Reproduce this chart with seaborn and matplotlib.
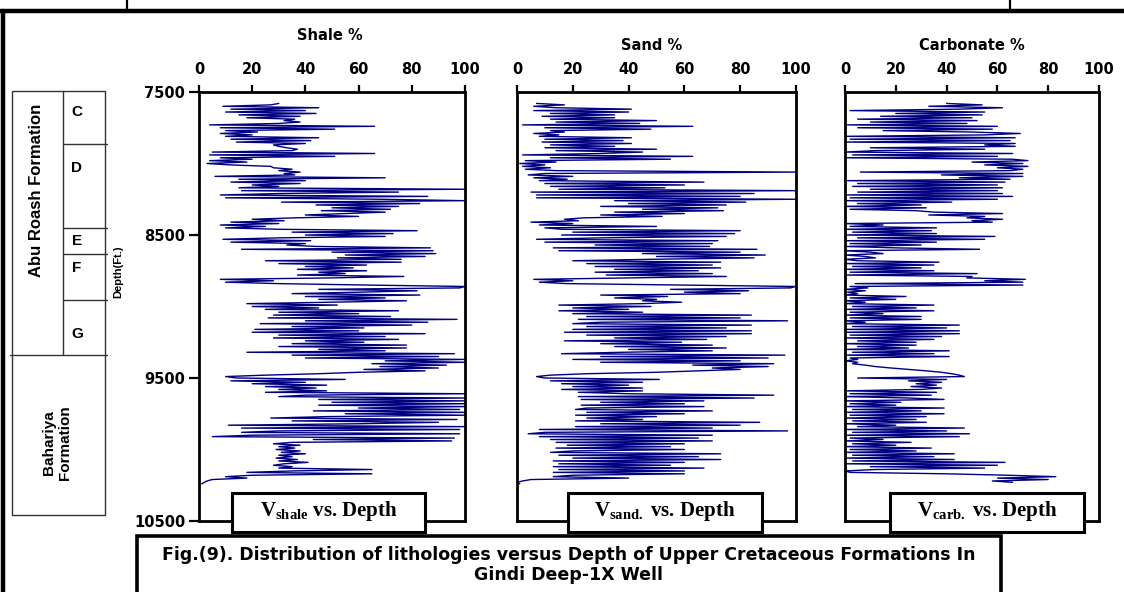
import numpy as np
import pandas as pd
import matplotlib
matplotlib.use("Agg")
import matplotlib.pyplot as plt
from matplotlib.patches import Rectangle
from matplotlib.lines import Line2D
import seaborn as sns

# ---------------- data ----------------
DEPTH_TOP = 7580   # first logged depth, ft
DEPTH_STEP = 10    # sampling interval, ft

SHALE = [
    30, 27, 9, 45, 12, 40, 10, 44, 15, 38,
    18, 36, 32, 38, 30, 4, 66, 8, 51, 10,
    22, 8, 20, 10, 45, 12, 42, 14, 40, 28,
    30, 33, 37, 35, 5, 66, 4, 51, 8, 20,
    4, 18, 3, 12, 27, 28, 35, 30, 38, 32,
    36, 6, 70, 15, 40, 12, 38, 20, 30, 15,
    100, 16, 75, 30, 8, 86, 10, 68, 100, 31,
    83, 44, 75, 50, 72, 46, 70, 55, 40, 60,
    36, 20, 32, 12, 30, 8, 25, 10, 30, 82,
    35, 73, 40, 70, 30, 9, 42, 12, 40, 33,
    44, 87, 16, 88, 50, 89, 55, 85, 52, 76,
    25, 76, 30, 63, 40, 58, 37, 63, 45, 55,
    37, 77, 50, 8, 28, 10, 30, 63, 100, 98,
    45, 82, 60, 35, 83, 40, 70, 45, 78, 50,
    18, 52, 20, 45, 25, 75, 30, 60, 28, 72,
    26, 97, 40, 86, 23, 80, 35, 62, 21, 60,
    20, 85, 30, 70, 28, 75, 40, 62, 35, 78,
    30, 78, 45, 70, 18, 96, 35, 90, 40, 100,
    70, 100, 65, 93, 68, 90, 62, 85, 60, 45,
    25, 10, 14, 55, 12, 40, 20, 48, 25, 44,
    30, 48, 25, 100, 40, 30, 100, 45, 100, 50,
    100, 45, 100, 60, 98, 43, 100, 55, 100, 48,
    27, 97, 35, 90, 60, 11, 100, 16, 98, 30,
    16, 98, 20, 5, 96, 43, 95, 35, 28, 38,
    30, 36, 29, 38, 31, 40, 30, 35, 29, 37,
    30, 41, 32, 28, 35, 30, 65, 35, 18, 65,
    20, 10, 18, 5, 3, 2, 1,
]

SAND = [
    7, 17, 6, 14, 41, 6, 40, 12, 35, 9,
    35, 12, 50, 14, 44, 2, 63, 10, 48, 12,
    17, 6, 15, 8, 41, 10, 38, 9, 41, 12,
    35, 10, 50, 14, 45, 30, 2, 63, 12, 55,
    3, 14, 1, 10, 2, 12, 3, 14, 100, 10,
    4, 20, 6, 18, 8, 67, 10, 60, 12, 53,
    15, 100, 5, 85, 7, 80, 7, 100, 35, 82,
    40, 75, 30, 72, 45, 74, 35, 60, 30, 52,
    24, 17, 22, 5, 20, 8, 50, 10, 16, 80,
    20, 78, 16, 75, 30, 7, 72, 10, 70, 28,
    69, 13, 86, 15, 80, 45, 89, 50, 85, 48,
    20, 73, 25, 70, 28, 73, 35, 65, 28, 70,
    32, 75, 40, 6, 20, 8, 18, 60, 100, 98,
    55, 83, 60, 80, 30, 54, 35, 50, 45, 59,
    45, 15, 48, 20, 40, 15, 45, 20, 84, 25,
    80, 22, 97, 30, 20, 84, 25, 75, 20, 84,
    17, 84, 25, 75, 35, 68, 17, 59, 30, 70,
    35, 75, 40, 70, 38, 16, 96, 30, 90, 20,
    80, 30, 92, 63, 90, 70, 80, 65, 50, 25,
    12, 7, 10, 51, 12, 45, 16, 40, 20, 45,
    16, 45, 22, 40, 92, 22, 85, 23, 67, 30,
    60, 23, 67, 25, 21, 70, 25, 60, 21, 50,
    25, 45, 21, 87, 30, 80, 21, 70, 8, 97,
    10, 4, 70, 8, 65, 12, 70, 14, 60, 18,
    55, 14, 60, 20, 12, 73, 15, 65, 20, 73,
    13, 60, 15, 55, 13, 67, 15, 60, 13, 60,
    20, 13, 40, 5, 2, 0, 1,
]

CARB = [
    40, 54, 33, 62, 45, 2, 55, 20, 54, 14,
    50, 5, 52, 10, 48, 1, 60, 5, 58, 15,
    50, 69, 55, 0, 67, 2, 65, 0, 67, 55,
    67, 10, 55, 12, 0, 66, 3, 60, 0, 66,
    72, 50, 70, 55, 72, 60, 70, 65, 6, 70,
    38, 70, 45, 65, 1, 63, 5, 60, 3, 62,
    10, 60, 5, 62, 0, 66, 2, 60, 0, 42,
    5, 30, 0, 32, 2, 28, 35, 62, 33, 55,
    48, 62, 50, 58, 0, 15, 2, 36, 0, 34,
    3, 36, 0, 59, 5, 55, 0, 36, 2, 30,
    0, 20, 53, 0, 10, 15, 0, 8, 12, 0,
    5, 37, 0, 35, 3, 30, 0, 35, 2, 52,
    0, 50, 48, 71, 55, 70, 4, 70, 2, 9,
    0, 8, 1, 5, 0, 24, 2, 20, 0, 8,
    0, 35, 3, 28, 0, 35, 2, 15, 0, 30,
    2, 30, 0, 8, 0, 45, 3, 40, 0, 45,
    0, 45, 2, 38, 0, 35, 5, 28, 0, 28,
    5, 25, 0, 41, 3, 35, 0, 41, 2, 5,
    0, 5, 3, 8, 12, 18, 25, 32, 38, 42,
    45, 47, 5, 40, 25, 38, 28, 36, 26, 38,
    30, 0, 36, 2, 34, 0, 25, 39, 0, 22,
    2, 20, 0, 39, 3, 30, 0, 39, 2, 32,
    0, 28, 3, 32, 0, 20, 5, 47, 0, 40,
    3, 49, 0, 45, 2, 15, 0, 26, 3, 20,
    0, 34, 2, 28, 0, 43, 3, 35, 0, 43,
    3, 63, 0, 60, 10, 55, 12, 0, 2, 40,
    64, 83, 60, 80, 58, 66,
]

PANEL_TITLES = ["Shale %", "Sand %", "Carbonate %"]
PANEL_BOX_SUB = ["shale", "sand.", "carb."]
X_TICKS = [0, 20, 40, 60, 80, 100]
DEPTH_TICKS = [7500, 8500, 9500, 10500]
UNITS = ["C", "D", "E", "F", "G"]
CAPTION = ("Fig.(9). Distribution of lithologies versus Depth of Upper Cretaceous Formations In\n"
           "Gindi Deep-1X Well")

# ---------------- style ----------------
sns.set_theme(style="white")
plt.rcParams["font.family"] = ["Liberation Sans", "DejaVu Sans"]
plt.rcParams["font.weight"] = "bold"
for key in ["text.color", "axes.labelcolor", "xtick.color", "ytick.color", "axes.edgecolor"]:
    plt.rcParams[key] = "black"
plt.rcParams["mathtext.fontset"] = "custom"
plt.rcParams["mathtext.rm"] = "Liberation Serif:bold"
plt.rcParams["mathtext.bf"] = "Liberation Serif:bold"
plt.rcParams["mathtext.it"] = "Liberation Serif:bold"

WIDE = ["DejaVu Sans"]   # wide bold sans, close to the stretched lettering

W, H = 1124, 592
fig = plt.figure(figsize=(W / 100, H / 100), dpi=100)
fig.patch.set_facecolor("white")


def fx(x):
    return x / W


def fy(y):
    return 1 - y / H


LINE_COLOR = "#000080"
AX_TOP, AX_BOT = 92, 521
panels = [(199, 465), (517, 796), (845, 1099)]
title_pos = [(330, 36), (652, 46), (972, 46)]
box_pos = [(232, 425), (568, 762), (890, 1084)]

series = [SHALE, SAND, CARB]
for i, ((x0, x1), vals) in enumerate(zip(panels, series)):
    ax = fig.add_axes([fx(x0), fy(AX_BOT), (x1 - x0) / W, (AX_BOT - AX_TOP) / H])
    df = pd.DataFrame({
        "value": vals,
        "depth": DEPTH_TOP + DEPTH_STEP * np.arange(len(vals)),
    })
    sns.lineplot(data=df, x="value", y="depth", orient="y", estimator=None,
                 sort=False, color=LINE_COLOR, lw=1.0, ax=ax)
    ax.set_xlim(0, 100)
    ax.set_ylim(10500, 7500)
    ax.set_xlabel("")
    ax.set_ylabel("")
    ax.set_facecolor("white")
    for s in ax.spines.values():
        s.set_visible(True)
        s.set_color("black")
        s.set_linewidth(2.0)
    ax.set_xticks(X_TICKS)
    ax.xaxis.set_ticks_position("top")
    ax.tick_params(axis="x", top=True, bottom=False, labeltop=True, labelbottom=False,
                   direction="out", length=5, width=1.6, pad=6, colors="black")
    for lbl in ax.get_xticklabels():
        lbl.set_fontweight("bold")
        lbl.set_family(WIDE)
        lbl.set_fontsize(10.5)
    if i == 0:
        ax.set_yticks(DEPTH_TICKS)
        ax.set_yticklabels([str(d) for d in DEPTH_TICKS])
        ax.tick_params(axis="y", left=True, right=False, direction="out", length=7,
                       width=1.6, pad=3, colors="black")
        for lbl in ax.get_yticklabels():
            lbl.set_fontweight("bold")
            lbl.set_family(WIDE)
            lbl.set_fontsize(10.5)
    else:
        ax.set_yticks([])
    ax.grid(False)

    tx, ty = title_pos[i]
    fig.text(fx(tx), fy(ty), PANEL_TITLES[i], ha="center", va="center",
             fontsize=10.5, fontweight="bold", family=WIDE)

    bx0, bx1 = box_pos[i]
    fig.add_artist(Rectangle((fx(bx0), fy(532)), (bx1 - bx0) / W, 39 / H,
                             transform=fig.transFigure, facecolor="white",
                             edgecolor="black", linewidth=2.2, zorder=5))
    fig.text(fx((bx0 + bx1) / 2), fy(511),
             r"$\mathregular{V}_{\mathregular{%s}}$ vs. Depth" % PANEL_BOX_SUB[i],
             ha="center", va="center", fontsize=15, fontweight="bold",
             family="Liberation Serif", zorder=6)

# depth label
fig.text(fx(118), fy(272), "Depth(Ft.)", rotation=90, ha="center", va="center",
         fontsize=8, fontweight="bold")

# ---------------- stratigraphic column ----------------
col_kw = dict(transform=fig.transFigure, color="#333333", linewidth=1.0, zorder=3)
fig.add_artist(Rectangle((fx(12), fy(515)), 93 / W, (515 - 91) / H,
                         transform=fig.transFigure, facecolor="none",
                         edgecolor="#333333", linewidth=1.0, zorder=3))
fig.add_artist(Line2D([fx(63), fx(63)], [fy(91), fy(355)], **col_kw))
for yy in [144, 228, 254, 300]:
    fig.add_artist(Line2D([fx(63), fx(107)], [fy(yy), fy(yy)], **col_kw))
fig.add_artist(Line2D([fx(10), fx(107)], [fy(355), fy(355)], **col_kw))
for u, yy in zip(UNITS, [112, 168, 241, 268, 334]):
    fig.text(fx(77), fy(yy), u, ha="center", va="center", fontsize=11, fontweight="bold")
fig.text(fx(37), fy(190), "Abu Roash Formation", rotation=90, ha="center",
         va="center", fontsize=12, fontweight="bold")
fig.text(fx(57), fy(443), "Bahariya\nFormation", rotation=90, ha="center",
         va="center", fontsize=11, fontweight="bold", linespacing=1.1,
         multialignment="center")

# ---------------- frame decorations ----------------
fig.add_artist(Line2D([0, 1], [fy(11), fy(11)], transform=fig.transFigure,
                      color="black", linewidth=3.2))
for xx in [127, 1010]:
    fig.add_artist(Line2D([fx(xx), fx(xx)], [1, fy(11)], transform=fig.transFigure,
                          color="black", linewidth=1.6))
fig.add_artist(Line2D([fx(3), fx(3)], [fy(11), 0], transform=fig.transFigure,
                      color="black", linewidth=3.2))

# caption box
fig.add_artist(Rectangle((fx(137), fy(600)), (1001 - 137) / W, (600 - 536) / H,
                         transform=fig.transFigure, facecolor="white",
                         edgecolor="black", linewidth=2.6, zorder=5))
fig.text(fx(569), fy(565), CAPTION, ha="center", va="center", fontsize=12.5,
         fontweight="bold", family=WIDE, linespacing=1.1, zorder=6)

fig.savefig("out.png", dpi=100)
